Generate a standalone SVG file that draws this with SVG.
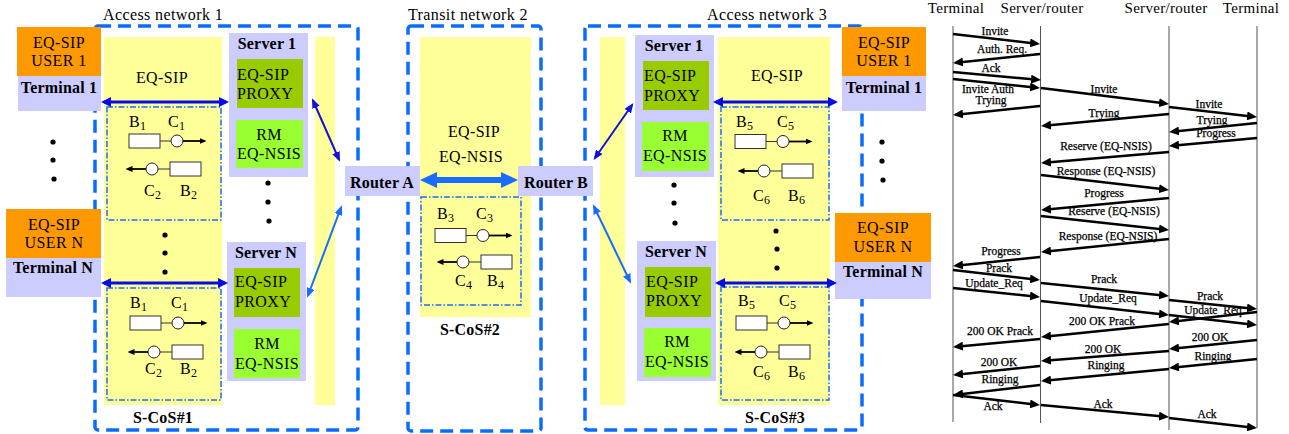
<svg xmlns="http://www.w3.org/2000/svg" xmlns:xlink="http://www.w3.org/1999/xlink" width="1289" height="434" viewBox="0 0 1289 434">
<style>
text{font-family:"Liberation Serif","Times New Roman",serif;font-size:16px;fill:#000;letter-spacing:0.4px}
.b{font-weight:bold;letter-spacing:0.2px}
.m{text-anchor:middle}
.h{font-size:15px;letter-spacing:0.3px}
.s{font-size:11.5px;text-anchor:middle;letter-spacing:0;stroke:#000;stroke-width:0.25}
.dash{fill:none;stroke:#0a6cff;stroke-width:3.5;stroke-dasharray:13 7}
.dd{fill:none;stroke:#1a6cff;stroke-width:1.5;stroke-dasharray:6 2 1.5 2}
.yel{fill:#ffff99}
.lav{fill:#ccccff}
.org{fill:#ff9900}
.dg{fill:#99cc00}
.lg{fill:#99ff33}
.qb{fill:#fff;stroke:#333;stroke-width:1}
.qc{fill:#fff;stroke:#222;stroke-width:1}
.ql{stroke:#333;stroke-width:1}
.qa{stroke:#000;stroke-width:1.8}
.dot{fill:#000}
.hz{stroke:#0a0ae6;stroke-width:3;fill:none}
.dk{stroke:#1212dd;stroke-width:2;fill:none}
.lt{stroke:#1a6cff;stroke-width:2;fill:none}
.tk{stroke:#1a6cff;stroke-width:6;fill:none}
.ll{stroke:#555;stroke-width:1}
.msg{stroke:#000;stroke-width:2.5;fill:none}
</style>
<defs>
<marker id="ms" viewBox="0 -3 7 6" refX="4.5" refY="0" markerWidth="7" markerHeight="6" markerUnits="userSpaceOnUse" orient="auto-start-reverse"><path d="M0,-3L7,0L0,3z" fill="#000"/></marker>
<marker id="mh" viewBox="0 -5 10 10" refX="7" refY="0" markerWidth="10" markerHeight="10" markerUnits="userSpaceOnUse" orient="auto-start-reverse"><path d="M0,-5L10,0L0,5z" fill="#0a0ae6"/></marker>
<marker id="mk" viewBox="0 -4 10 8" refX="7.5" refY="0" markerWidth="10" markerHeight="8" markerUnits="userSpaceOnUse" orient="auto-start-reverse"><path d="M0,-4L10,0L0,4z" fill="#1212dd"/></marker>
<marker id="ml" viewBox="0 -4 10 8" refX="7.5" refY="0" markerWidth="10" markerHeight="8" markerUnits="userSpaceOnUse" orient="auto-start-reverse"><path d="M0,-4L10,0L0,4z" fill="#1a6cff"/></marker>
<marker id="mt" viewBox="0 -8 17 16" refX="10" refY="0" markerWidth="17" markerHeight="16" markerUnits="userSpaceOnUse" orient="auto-start-reverse"><path d="M0,-8L17,0L0,8z" fill="#1a6cff"/></marker>
<marker id="mq" viewBox="0 -4.5 10 9" refX="7" refY="0" markerWidth="10" markerHeight="9" markerUnits="userSpaceOnUse" orient="auto"><path d="M0,-4.5L10,0L0,4.5z" fill="#000"/></marker>
<g id="qo"><rect x="0" y="-7" width="31" height="14" class="qb"/><line x1="31" y1="0" x2="42" y2="0" class="ql"/><circle cx="48" cy="0" r="6" class="qc"/><line x1="54" y1="0" x2="75" y2="0" class="qa" marker-end="url(#ms)"/></g>
<g id="qi"><line x1="21" y1="0" x2="3" y2="0" class="qa" marker-end="url(#ms)"/><circle cx="27" cy="0" r="6" class="qc"/><line x1="33" y1="0" x2="45" y2="0" class="ql"/><rect x="45" y="-7" width="31" height="14" class="qb"/></g>
</defs>
<rect width="1289" height="434" fill="#fff"/>

<!-- network boundaries -->
<g id="access-network-1">
<rect x="95" y="26" width="263" height="404" rx="3" class="dash"/>
<text x="103" y="20">Access network 1</text>
</g>
<g id="transit-network-2">
<rect x="408" y="26" width="133" height="405" rx="3" class="dash"/>
<text x="468" y="20" class="m">Transit network 2</text>
</g>
<g id="access-network-3">
<rect x="585" y="26" width="277" height="404" rx="3" class="dash"/>
<text x="707" y="20">Access network 3</text>
</g>

<!-- S-CoS#1 -->
<g id="scos1">
<rect x="104" y="37" width="118" height="368" class="yel"/>
<rect x="315" y="37" width="20" height="368" class="yel"/>
<text x="162" y="83" class="m">EQ-SIP</text>
<rect x="107" y="107" width="114" height="113" class="dd"/>
<text x="129" y="127">B<tspan font-size="12" dy="3">1</tspan></text>
<text x="168" y="127">C<tspan font-size="12" dy="3">1</tspan></text>
<use href="#qo" x="129" y="141"/>
<use href="#qi" x="125" y="169"/>
<text x="144" y="196">C<tspan font-size="12" dy="3">2</tspan></text>
<text x="180" y="196">B<tspan font-size="12" dy="3">2</tspan></text>
<circle cx="165" cy="235" r="2.6" class="dot"/><circle cx="165" cy="253" r="2.6" class="dot"/><circle cx="165" cy="272" r="2.6" class="dot"/>
<rect x="107" y="288" width="114" height="112" class="dd"/>
<text x="130" y="308">B<tspan font-size="12" dy="3">1</tspan></text>
<text x="171" y="308">C<tspan font-size="12" dy="3">1</tspan></text>
<use href="#qo" x="130" y="323"/>
<use href="#qi" x="127" y="352"/>
<text x="145" y="374">C<tspan font-size="12" dy="3">2</tspan></text>
<text x="180" y="374">B<tspan font-size="12" dy="3">2</tspan></text>
<text x="163" y="423" class="m b">S-CoS#1</text>
</g>

<!-- S-CoS#2 -->
<g id="scos2">
<rect x="420" y="37" width="111" height="280" class="yel"/>
<text x="474" y="137" class="m">EQ-SIP</text>
<text x="471" y="162" class="m">EQ-NSIS</text>
<rect x="421" y="197" width="100" height="108" class="dd"/>
<text x="437" y="219">B<tspan font-size="12" dy="3">3</tspan></text>
<text x="476" y="219">C<tspan font-size="12" dy="3">3</tspan></text>
<use href="#qo" x="435" y="235.5"/>
<use href="#qi" x="436" y="262"/>
<text x="455" y="286">C<tspan font-size="12" dy="3">4</tspan></text>
<text x="487" y="286">B<tspan font-size="12" dy="3">4</tspan></text>
<text x="470" y="335" class="m b">S-CoS#2</text>
</g>

<!-- S-CoS#3 -->
<g id="scos3">
<rect x="600" y="37" width="25" height="368" class="yel"/>
<rect x="718" y="37" width="112" height="368" class="yel"/>
<text x="777" y="81" class="m">EQ-SIP</text>
<rect x="721" y="107" width="108" height="113" class="dd"/>
<text x="736" y="127">B<tspan font-size="12" dy="3">5</tspan></text>
<text x="777" y="127">C<tspan font-size="12" dy="3">5</tspan></text>
<use href="#qo" x="735" y="141.5"/>
<use href="#qi" x="737" y="171"/>
<text x="753" y="201">C<tspan font-size="12" dy="3">6</tspan></text>
<text x="788" y="201">B<tspan font-size="12" dy="3">6</tspan></text>
<circle cx="776" cy="231" r="2.6" class="dot"/><circle cx="777" cy="249" r="2.6" class="dot"/><circle cx="777" cy="268" r="2.6" class="dot"/>
<rect x="721" y="287" width="108" height="113" class="dd"/>
<text x="738" y="306">B<tspan font-size="12" dy="3">5</tspan></text>
<text x="779" y="306">C<tspan font-size="12" dy="3">5</tspan></text>
<use href="#qo" x="736" y="323"/>
<use href="#qi" x="734" y="352"/>
<text x="753" y="377">C<tspan font-size="12" dy="3">6</tspan></text>
<text x="788" y="377">B<tspan font-size="12" dy="3">6</tspan></text>
<text x="775" y="423" class="m b">S-CoS#3</text>
</g>

<!-- left terminals -->
<g id="terminal-1-left">
<rect x="17" y="27" width="84" height="49" class="org"/>
<rect x="18" y="76" width="83" height="35" class="lav"/>
<text x="59" y="48" class="m">EQ-SIP</text>
<text x="59" y="66" class="m">USER 1</text>
<text x="59" y="93" class="m b">Terminal 1</text>
</g>
<g id="dots-left">
<circle cx="53" cy="142" r="2.6" class="dot"/><circle cx="53" cy="160" r="2.6" class="dot"/><circle cx="54" cy="179" r="2.6" class="dot"/>
</g>
<g id="terminal-n-left">
<rect x="6" y="209" width="95" height="49" class="org"/>
<rect x="6" y="258" width="95" height="39" class="lav"/>
<text x="54" y="230" class="m">EQ-SIP</text>
<text x="54" y="248" class="m">USER N</text>
<text x="53" y="273" class="m b">Terminal N</text>
</g>

<!-- left servers -->
<g id="server-1-left">
<rect x="229" y="33" width="79" height="144" class="lav"/>
<text x="267" y="49" class="m b">Server 1</text>
<rect x="237" y="59" width="66" height="49" class="dg"/>
<text x="237" y="80">EQ-SIP</text>
<text x="237" y="99">PROXY</text>
<rect x="236" y="120" width="67" height="48" class="lg"/>
<text x="269" y="140" class="m">RM</text>
<text x="269" y="159" class="m">EQ-NSIS</text>
</g>
<g id="dots-servers-left">
<circle cx="268" cy="183" r="2.6" class="dot"/><circle cx="268" cy="202" r="2.6" class="dot"/><circle cx="269" cy="221" r="2.6" class="dot"/>
</g>
<g id="server-n-left">
<rect x="227" y="242" width="79" height="139" class="lav"/>
<text x="266" y="258" class="m b">Server N</text>
<rect x="234" y="268" width="66" height="49" class="dg"/>
<text x="235" y="287">EQ-SIP</text>
<text x="235" y="307">PROXY</text>
<rect x="234" y="329" width="66" height="49" class="lg"/>
<text x="267" y="349" class="m">RM</text>
<text x="267" y="369" class="m">EQ-NSIS</text>
</g>

<!-- routers -->
<g id="router-a">
<rect x="345" y="166" width="75" height="30" class="lav"/>
<text x="382" y="188" class="m b">Router A</text>
</g>
<g id="router-b">
<rect x="518" y="166" width="75" height="30" class="lav"/>
<text x="556" y="188" class="m b">Router B</text>
</g>

<!-- right servers -->
<g id="server-1-right">
<rect x="635" y="35" width="79" height="142" class="lav"/>
<text x="674" y="51" class="m b">Server 1</text>
<rect x="643" y="61" width="66" height="49" class="dg"/>
<text x="644" y="81">EQ-SIP</text>
<text x="644" y="101">PROXY</text>
<rect x="642" y="122" width="67" height="49" class="lg"/>
<text x="675" y="141" class="m">RM</text>
<text x="675" y="161" class="m">EQ-NSIS</text>
</g>
<g id="dots-servers-right">
<circle cx="674" cy="185" r="2.6" class="dot"/><circle cx="674" cy="203" r="2.6" class="dot"/><circle cx="675" cy="223" r="2.6" class="dot"/>
</g>
<g id="server-n-right">
<rect x="637" y="241" width="79" height="140" class="lav"/>
<text x="676" y="257" class="m b">Server N</text>
<rect x="645" y="267" width="66" height="50" class="dg"/>
<text x="646" y="287">EQ-SIP</text>
<text x="646" y="306">PROXY</text>
<rect x="644" y="328" width="67" height="49" class="lg"/>
<text x="677" y="347" class="m">RM</text>
<text x="677" y="367" class="m">EQ-NSIS</text>
</g>

<!-- right terminals -->
<g id="terminal-1-right">
<rect x="842" y="27" width="84" height="49" class="org"/>
<rect x="842" y="76" width="84" height="35" class="lav"/>
<text x="884" y="48" class="m">EQ-SIP</text>
<text x="884" y="66" class="m">USER 1</text>
<text x="884" y="93" class="m b">Terminal 1</text>
</g>
<g id="dots-right">
<circle cx="882" cy="142" r="2.6" class="dot"/><circle cx="882" cy="161" r="2.6" class="dot"/><circle cx="883" cy="180" r="2.6" class="dot"/>
</g>
<g id="terminal-n-right">
<rect x="835" y="213" width="96" height="49" class="org"/>
<rect x="835" y="262" width="96" height="37" class="lav"/>
<text x="883" y="233" class="m">EQ-SIP</text>
<text x="883" y="252" class="m">USER N</text>
<text x="883" y="277" class="m b">Terminal N</text>
</g>

<!-- connectors -->
<g id="connectors">
<line x1="104" y1="102" x2="226" y2="102" class="hz" marker-start="url(#mh)" marker-end="url(#mh)"/>
<line x1="104" y1="283" x2="225" y2="283" class="hz" marker-start="url(#mh)" marker-end="url(#mh)"/>
<line x1="716" y1="102" x2="835" y2="102" class="hz" marker-start="url(#mh)" marker-end="url(#mh)"/>
<line x1="718" y1="283" x2="834" y2="283" class="hz" marker-start="url(#mh)" marker-end="url(#mh)"/>
<line x1="313" y1="100.5" x2="339" y2="159.5" class="dk" marker-start="url(#mk)" marker-end="url(#mk)"/>
<line x1="341" y1="207.5" x2="308" y2="295.5" class="lt" marker-start="url(#ml)" marker-end="url(#ml)"/>
<line x1="427" y1="180" x2="511" y2="180" class="tk" marker-start="url(#mt)" marker-end="url(#mt)"/>
<line x1="595" y1="158" x2="632" y2="105" class="dk" marker-start="url(#mk)" marker-end="url(#mk)"/>
<line x1="594" y1="206.5" x2="630" y2="281.5" class="lt" marker-start="url(#ml)" marker-end="url(#ml)"/>
</g>

<!-- sequence chart -->
<g id="sequence-lifelines">
<text x="956" y="13" class="h m">Terminal</text>
<text x="1042" y="13" class="h m">Server/router</text>
<text x="1166" y="13" class="h m">Server/router</text>
<text x="1251" y="13" class="h m">Terminal</text>
<line x1="953" y1="26" x2="953" y2="422" class="ll"/>
<line x1="1040.5" y1="26" x2="1040.5" y2="423" class="ll"/>
<line x1="1169" y1="26" x2="1169" y2="430" class="ll"/>
<line x1="1257" y1="26" x2="1257" y2="428" class="ll"/>
</g>
<g id="sequence-messages">
<line x1="953" y1="34" x2="1037" y2="43.7" class="msg" marker-end="url(#mq)"/>
<line x1="1040" y1="54" x2="956" y2="62.7" class="msg" marker-end="url(#mq)"/>
<line x1="953" y1="72" x2="1038" y2="79.8" class="msg" marker-end="url(#mq)"/>
<line x1="953" y1="79" x2="1037" y2="87.7" class="msg" marker-end="url(#mq)"/>
<line x1="1040" y1="106" x2="956" y2="114.7" class="msg" marker-end="url(#mq)"/>
<line x1="1041" y1="88" x2="1166" y2="103.6" class="msg" marker-end="url(#mq)"/>
<line x1="1169" y1="114" x2="1044" y2="125.7" class="msg" marker-end="url(#mq)"/>
<line x1="1169" y1="107" x2="1254" y2="116.7" class="msg" marker-end="url(#mq)"/>
<line x1="1257" y1="123" x2="1172" y2="131.7" class="msg" marker-end="url(#mq)"/>
<line x1="1257" y1="138" x2="1172" y2="145.7" class="msg" marker-end="url(#mq)"/>
<line x1="1169" y1="152" x2="1044" y2="162.7" class="msg" marker-end="url(#mq)"/>
<line x1="1041" y1="175" x2="1166" y2="189.6" class="msg" marker-end="url(#mq)"/>
<line x1="1169" y1="198" x2="1044" y2="209.7" class="msg" marker-end="url(#mq)"/>
<line x1="1041" y1="216" x2="1166" y2="229.7" class="msg" marker-end="url(#mq)"/>
<line x1="1169" y1="239" x2="1044" y2="251.7" class="msg" marker-end="url(#mq)"/>
<line x1="1040" y1="257" x2="956" y2="265.7" class="msg" marker-end="url(#mq)"/>
<line x1="953" y1="270" x2="1037" y2="279.7" class="msg" marker-end="url(#mq)"/>
<line x1="953" y1="288" x2="1037" y2="296.7" class="msg" marker-end="url(#mq)"/>
<line x1="1041" y1="283" x2="1166" y2="295.7" class="msg" marker-end="url(#mq)"/>
<line x1="1041" y1="301" x2="1166" y2="314.7" class="msg" marker-end="url(#mq)"/>
<line x1="1169" y1="300" x2="1254" y2="308.7" class="msg" marker-end="url(#mq)"/>
<line x1="1257" y1="312" x2="1172" y2="321.7" class="msg" marker-end="url(#mq)"/>
<line x1="1169" y1="315" x2="1254" y2="324.7" class="msg" marker-end="url(#mq)"/>
<line x1="1169" y1="324" x2="1044" y2="336.7" class="msg" marker-end="url(#mq)"/>
<line x1="1040" y1="339" x2="956" y2="346.7" class="msg" marker-end="url(#mq)"/>
<line x1="1257" y1="340" x2="1172" y2="348.7" class="msg" marker-end="url(#mq)"/>
<line x1="1169" y1="351" x2="1044" y2="360.8" class="msg" marker-end="url(#mq)"/>
<line x1="1040" y1="366" x2="956" y2="374.7" class="msg" marker-end="url(#mq)"/>
<line x1="1257" y1="359" x2="1172" y2="367.7" class="msg" marker-end="url(#mq)"/>
<line x1="1169" y1="369" x2="1044" y2="380.7" class="msg" marker-end="url(#mq)"/>
<line x1="1040" y1="385" x2="956" y2="394.7" class="msg" marker-end="url(#mq)"/>
<line x1="953" y1="395" x2="1037" y2="404.7" class="msg" marker-end="url(#mq)"/>
<line x1="1041" y1="405" x2="1166" y2="416.7" class="msg" marker-end="url(#mq)"/>
<line x1="1169" y1="418" x2="1254" y2="427.7" class="msg" marker-end="url(#mq)"/>
</g>
<g id="sequence-labels">
<text x="995" y="35" class="s">Invite</text>
<text x="1002" y="53" class="s">Auth. Req.</text>
<text x="991" y="72" class="s">Ack</text>
<text x="988" y="93" class="s">Invite Auth</text>
<text x="991" y="104" class="s">Trying</text>
<text x="1104" y="93" class="s">Invite</text>
<text x="1104" y="117" class="s">Trying</text>
<text x="1209" y="108" class="s">Invite</text>
<text x="1212" y="124" class="s">Trying</text>
<text x="1216" y="137" class="s">Progress</text>
<text x="1106" y="150" class="s">Reserve (EQ-NSIS)</text>
<text x="1106" y="175" class="s">Response (EQ-NSIS)</text>
<text x="1104" y="197" class="s">Progress</text>
<text x="1114" y="215" class="s">Reserve (EQ-NSIS)</text>
<text x="1108" y="240" class="s">Response (EQ-NSIS)</text>
<text x="1001" y="255" class="s">Progress</text>
<text x="999" y="272" class="s">Prack</text>
<text x="994" y="287" class="s">Update_Req</text>
<text x="1104" y="283" class="s">Prack</text>
<text x="1108" y="302" class="s">Update_Req</text>
<text x="1210" y="300" class="s">Prack</text>
<text x="1213" y="314" class="s">Update_Req</text>
<text x="1102" y="325" class="s">200 OK Prack</text>
<text x="1000" y="335" class="s">200 OK Prack</text>
<text x="1210" y="341" class="s">200 OK</text>
<text x="1103" y="353" class="s">200 OK</text>
<text x="999" y="366" class="s">200 OK</text>
<text x="1213" y="360" class="s">Ringing</text>
<text x="1106" y="369" class="s">Ringing</text>
<text x="1000" y="383" class="s">Ringing</text>
<text x="993" y="410" class="s">Ack</text>
<text x="1103" y="408" class="s">Ack</text>
<text x="1207" y="418" class="s">Ack</text>
</g>
</svg>
